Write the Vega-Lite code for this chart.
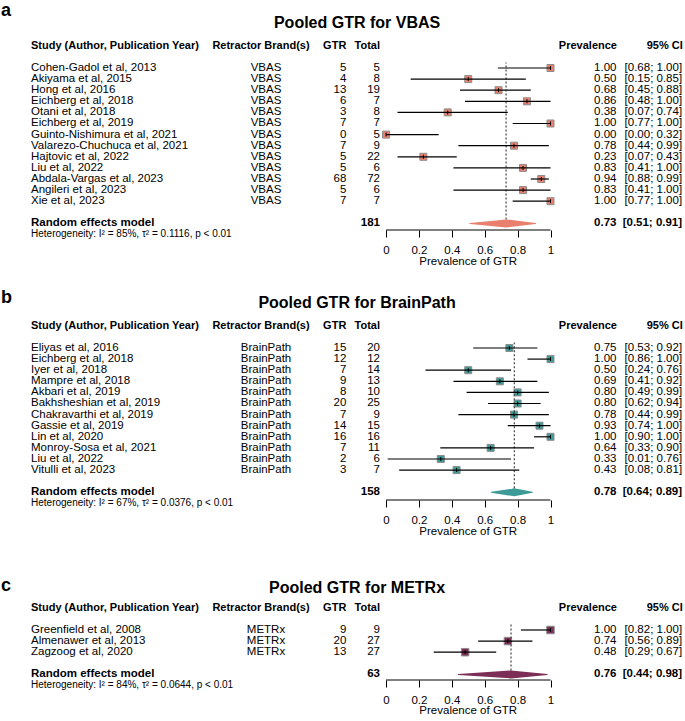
{
"$schema": "https://vega.github.io/schema/vega-lite/v6.json",
"padding": 0,
"spacing": 50,
"bounds": "flush",
"config": {"view": {"stroke": null}, "text": {"font": "Liberation Sans", "color": "black"},
 "axisX": {"domain": false, "grid": false, "ticks": true, "tickSize": 7, "tickColor": "black", "tickWidth": 1, "labelFont": "Liberation Sans", "labelFontSize": 11.5, "labelColor": "black", "labelPadding": 7, "labelFlush": false, "labelOverlap": false}},
"datasets": {"rows": [
{"panel":"a","kind":"study","row":1,"study":"Cohen-Gadol et al, 2013","brand":"VBAS","gtr":5,"total":5,"prev":1.0,"lo":0.68,"hi":1.0,"prevLabel":"1.00","ciLabel":"[0.68; 1.00]"},
{"panel":"a","kind":"study","row":2,"study":"Akiyama et al, 2015","brand":"VBAS","gtr":4,"total":8,"prev":0.5,"lo":0.15,"hi":0.85,"prevLabel":"0.50","ciLabel":"[0.15; 0.85]"},
{"panel":"a","kind":"study","row":3,"study":"Hong et al, 2016","brand":"VBAS","gtr":13,"total":19,"prev":0.684,"lo":0.45,"hi":0.88,"prevLabel":"0.68","ciLabel":"[0.45; 0.88]"},
{"panel":"a","kind":"study","row":4,"study":"Eichberg et al, 2018","brand":"VBAS","gtr":6,"total":7,"prev":0.857,"lo":0.48,"hi":1.0,"prevLabel":"0.86","ciLabel":"[0.48; 1.00]"},
{"panel":"a","kind":"study","row":5,"study":"Otani et al, 2018","brand":"VBAS","gtr":3,"total":8,"prev":0.375,"lo":0.07,"hi":0.74,"prevLabel":"0.38","ciLabel":"[0.07; 0.74]"},
{"panel":"a","kind":"study","row":6,"study":"Eichberg et al, 2019","brand":"VBAS","gtr":7,"total":7,"prev":1.0,"lo":0.77,"hi":1.0,"prevLabel":"1.00","ciLabel":"[0.77; 1.00]"},
{"panel":"a","kind":"study","row":7,"study":"Guinto-Nishimura et al, 2021","brand":"VBAS","gtr":0,"total":5,"prev":0.0,"lo":0.0,"hi":0.32,"prevLabel":"0.00","ciLabel":"[0.00; 0.32]"},
{"panel":"a","kind":"study","row":8,"study":"Valarezo-Chuchuca et al, 2021","brand":"VBAS","gtr":7,"total":9,"prev":0.778,"lo":0.44,"hi":0.99,"prevLabel":"0.78","ciLabel":"[0.44; 0.99]"},
{"panel":"a","kind":"study","row":9,"study":"Hajtovic et al, 2022","brand":"VBAS","gtr":5,"total":22,"prev":0.227,"lo":0.07,"hi":0.43,"prevLabel":"0.23","ciLabel":"[0.07; 0.43]"},
{"panel":"a","kind":"study","row":10,"study":"Liu et al, 2022","brand":"VBAS","gtr":5,"total":6,"prev":0.833,"lo":0.41,"hi":1.0,"prevLabel":"0.83","ciLabel":"[0.41; 1.00]"},
{"panel":"a","kind":"study","row":11,"study":"Abdala-Vargas et al, 2023","brand":"VBAS","gtr":68,"total":72,"prev":0.944,"lo":0.88,"hi":0.99,"prevLabel":"0.94","ciLabel":"[0.88; 0.99]"},
{"panel":"a","kind":"study","row":12,"study":"Angileri et al, 2023","brand":"VBAS","gtr":5,"total":6,"prev":0.833,"lo":0.41,"hi":1.0,"prevLabel":"0.83","ciLabel":"[0.41; 1.00]"},
{"panel":"a","kind":"study","row":13,"study":"Xie et al, 2023","brand":"VBAS","gtr":7,"total":7,"prev":1.0,"lo":0.77,"hi":1.0,"prevLabel":"1.00","ciLabel":"[0.77; 1.00]"},
{"panel":"a","kind":"summary","row":15,"study":"Random effects model","total":181,"prev":0.73,"lo":0.51,"hi":0.91,"prevLabel":"0.73","ciLabel":"[0.51; 0.91]","letter":"a","title":"Pooled GTR for VBAS","het":"Heterogeneity: I² = 85%, τ² = 0.1116, p < 0.01"},
{"panel":"b","kind":"study","row":1,"study":"Eliyas et al, 2016","brand":"BrainPath","gtr":15,"total":20,"prev":0.75,"lo":0.53,"hi":0.92,"prevLabel":"0.75","ciLabel":"[0.53; 0.92]"},
{"panel":"b","kind":"study","row":2,"study":"Eichberg et al, 2018","brand":"BrainPath","gtr":12,"total":12,"prev":1.0,"lo":0.86,"hi":1.0,"prevLabel":"1.00","ciLabel":"[0.86; 1.00]"},
{"panel":"b","kind":"study","row":3,"study":"Iyer et al, 2018","brand":"BrainPath","gtr":7,"total":14,"prev":0.5,"lo":0.24,"hi":0.76,"prevLabel":"0.50","ciLabel":"[0.24; 0.76]"},
{"panel":"b","kind":"study","row":4,"study":"Mampre et al, 2018","brand":"BrainPath","gtr":9,"total":13,"prev":0.692,"lo":0.41,"hi":0.92,"prevLabel":"0.69","ciLabel":"[0.41; 0.92]"},
{"panel":"b","kind":"study","row":5,"study":"Akbari et al, 2019","brand":"BrainPath","gtr":8,"total":10,"prev":0.8,"lo":0.49,"hi":0.99,"prevLabel":"0.80","ciLabel":"[0.49; 0.99]"},
{"panel":"b","kind":"study","row":6,"study":"Bakhsheshian et al, 2019","brand":"BrainPath","gtr":20,"total":25,"prev":0.8,"lo":0.62,"hi":0.94,"prevLabel":"0.80","ciLabel":"[0.62; 0.94]"},
{"panel":"b","kind":"study","row":7,"study":"Chakravarthi et al, 2019","brand":"BrainPath","gtr":7,"total":9,"prev":0.778,"lo":0.44,"hi":0.99,"prevLabel":"0.78","ciLabel":"[0.44; 0.99]"},
{"panel":"b","kind":"study","row":8,"study":"Gassie et al, 2019","brand":"BrainPath","gtr":14,"total":15,"prev":0.933,"lo":0.74,"hi":1.0,"prevLabel":"0.93","ciLabel":"[0.74; 1.00]"},
{"panel":"b","kind":"study","row":9,"study":"Lin et al, 2020","brand":"BrainPath","gtr":16,"total":16,"prev":1.0,"lo":0.9,"hi":1.0,"prevLabel":"1.00","ciLabel":"[0.90; 1.00]"},
{"panel":"b","kind":"study","row":10,"study":"Monroy-Sosa et al, 2021","brand":"BrainPath","gtr":7,"total":11,"prev":0.636,"lo":0.33,"hi":0.9,"prevLabel":"0.64","ciLabel":"[0.33; 0.90]"},
{"panel":"b","kind":"study","row":11,"study":"Liu et al, 2022","brand":"BrainPath","gtr":2,"total":6,"prev":0.333,"lo":0.01,"hi":0.76,"prevLabel":"0.33","ciLabel":"[0.01; 0.76]"},
{"panel":"b","kind":"study","row":12,"study":"Vitulli et al, 2023","brand":"BrainPath","gtr":3,"total":7,"prev":0.429,"lo":0.08,"hi":0.81,"prevLabel":"0.43","ciLabel":"[0.08; 0.81]"},
{"panel":"b","kind":"summary","row":14,"study":"Random effects model","total":158,"prev":0.78,"lo":0.64,"hi":0.89,"prevLabel":"0.78","ciLabel":"[0.64; 0.89]","letter":"b","title":"Pooled GTR for BrainPath","het":"Heterogeneity: I² = 67%, τ² = 0.0376, p < 0.01"},
{"panel":"c","kind":"study","row":1,"study":"Greenfield et al, 2008","brand":"METRx","gtr":9,"total":9,"prev":1.0,"lo":0.82,"hi":1.0,"prevLabel":"1.00","ciLabel":"[0.82; 1.00]"},
{"panel":"c","kind":"study","row":2,"study":"Almenawer et al, 2013","brand":"METRx","gtr":20,"total":27,"prev":0.741,"lo":0.56,"hi":0.89,"prevLabel":"0.74","ciLabel":"[0.56; 0.89]"},
{"panel":"c","kind":"study","row":3,"study":"Zagzoog et al, 2020","brand":"METRx","gtr":13,"total":27,"prev":0.481,"lo":0.29,"hi":0.67,"prevLabel":"0.48","ciLabel":"[0.29; 0.67]"},
{"panel":"c","kind":"summary","row":5,"study":"Random effects model","total":63,"prev":0.76,"lo":0.44,"hi":0.98,"prevLabel":"0.76","ciLabel":"[0.44; 0.98]","letter":"c","title":"Pooled GTR for METRx","het":"Heterogeneity: I² = 84%, τ² = 0.0644, p < 0.01"}
]},
"vconcat": [
{
"width": 685, "height": 230,
"data": {"name": "rows"},
"transform": [{"filter": "datum.panel === 'a'"}],
"encoding": {"y": {"field": "row", "type": "quantitative", "scale": {"domain": [-5.126, 15.595], "reverse": true, "nice": false, "zero": false}, "axis": null}},
"layer": [
{"transform": [{"filter": "datum.kind === 'study'"}], "mark": {"type": "point", "shape": "square", "filled": true, "size": 49, "fill": "#E9806E", "stroke": "#8c8c8c", "strokeWidth": 1, "opacity": 1},
 "encoding": {"x": {"field": "prev", "type": "quantitative", "scale": {"domain": [-2.3465, 1.8176], "nice": false, "zero": false}, "axis": {"values": [0, 0.2, 0.4, 0.6, 0.8, 1], "format": "~g", "title": null}}}},
{"transform": [{"filter": "datum.kind === 'summary'"}], "mark": {"type": "rule", "color": "black", "strokeWidth": 1},
 "encoding": {"x": {"datum": 0, "axis": {"values": [0, 0.2, 0.4, 0.6, 0.8, 1], "format": "~g", "title": null}}, "x2": {"datum": 1}, "y": {"datum": 15.595, "axis": null}}},
{"transform": [{"filter": "datum.kind === 'summary'"}], "mark": {"type": "rule", "color": "#444444", "strokeDash": [2, 2], "strokeWidth": 1.2},
 "encoding": {"x": {"field": "prev", "type": "quantitative", "axis": {"values": [0, 0.2, 0.4, 0.6, 0.8, 1], "format": "~g", "title": null}}, "y2": {"datum": 0.5}}},
{"transform": [{"filter": "datum.kind === 'study'"}], "mark": {"type": "rule", "color": "black", "strokeWidth": 1.2},
 "encoding": {"x": {"field": "lo", "type": "quantitative", "axis": {"values": [0, 0.2, 0.4, 0.6, 0.8, 1], "format": "~g", "title": null}}, "x2": {"field": "hi"}}},
{"transform": [{"filter": "datum.kind === 'study'"}], "mark": {"type": "tick", "orient": "vertical", "size": 4, "thickness": 1, "color": "black", "opacity": 1},
 "encoding": {"x": {"field": "prev", "type": "quantitative", "axis": {"values": [0, 0.2, 0.4, 0.6, 0.8, 1], "format": "~g", "title": null}}}},
{"transform": [{"filter": "datum.kind === 'summary'"}, {"fold": ["lo", "prev", "hi"], "as": ["part", "xval"]}], "mark": {"type": "trail", "color": "#E9806E"},
 "encoding": {"x": {"field": "xval", "type": "quantitative", "axis": {"values": [0, 0.2, 0.4, 0.6, 0.8, 1], "format": "~g", "title": null}}, "size": {"condition": {"test": "datum.part === 'prev'", "value": 8}, "value": 0}}},
{"transform": [{"filter": "datum.kind === 'study'"}], "mark": {"type": "text", "align": "left", "baseline": "middle", "fontSize": 11.5},
 "encoding": {"x": {"datum": -2.158, "axis": {"values": [0, 0.2, 0.4, 0.6, 0.8, 1], "format": "~g", "title": null}}, "text": {"field": "study"}}},
{"transform": [{"filter": "datum.kind === 'study'"}], "mark": {"type": "text", "align": "center", "baseline": "middle", "fontSize": 11.5},
 "encoding": {"x": {"datum": -0.7295, "axis": {"values": [0, 0.2, 0.4, 0.6, 0.8, 1], "format": "~g", "title": null}}, "text": {"field": "brand"}}},
{"transform": [{"filter": "datum.kind === 'study'"}], "mark": {"type": "text", "align": "right", "baseline": "middle", "fontSize": 11.5},
 "encoding": {"x": {"datum": -0.241, "axis": {"values": [0, 0.2, 0.4, 0.6, 0.8, 1], "format": "~g", "title": null}}, "text": {"field": "gtr", "type": "nominal"}}},
{"transform": [{"filter": "datum.kind === 'study'"}], "mark": {"type": "text", "align": "right", "baseline": "middle", "fontSize": 11.5},
 "encoding": {"x": {"datum": -0.0365, "axis": {"values": [0, 0.2, 0.4, 0.6, 0.8, 1], "format": "~g", "title": null}}, "text": {"field": "total", "type": "nominal"}}},
{"transform": [{"filter": "datum.kind === 'study'"}], "mark": {"type": "text", "align": "right", "baseline": "middle", "fontSize": 11.5},
 "encoding": {"x": {"datum": 1.401, "axis": {"values": [0, 0.2, 0.4, 0.6, 0.8, 1], "format": "~g", "title": null}}, "text": {"field": "prevLabel"}}},
{"transform": [{"filter": "datum.kind === 'study'"}], "mark": {"type": "text", "align": "right", "baseline": "middle", "fontSize": 11.5},
 "encoding": {"x": {"datum": 1.8, "axis": {"values": [0, 0.2, 0.4, 0.6, 0.8, 1], "format": "~g", "title": null}}, "text": {"field": "ciLabel"}}},
{"transform": [{"filter": "datum.kind === 'summary'"}], "mark": {"type": "text", "align": "left", "baseline": "middle", "fontSize": 11.5, "fontWeight": "bold"},
 "encoding": {"x": {"datum": -2.158, "axis": {"values": [0, 0.2, 0.4, 0.6, 0.8, 1], "format": "~g", "title": null}}, "text": {"field": "study"}}},
{"transform": [{"filter": "datum.kind === 'summary'"}], "mark": {"type": "text", "align": "right", "baseline": "middle", "fontSize": 11.5, "fontWeight": "bold"},
 "encoding": {"x": {"datum": -0.0365, "axis": {"values": [0, 0.2, 0.4, 0.6, 0.8, 1], "format": "~g", "title": null}}, "text": {"field": "total", "type": "nominal"}}},
{"transform": [{"filter": "datum.kind === 'summary'"}], "mark": {"type": "text", "align": "right", "baseline": "middle", "fontSize": 11.5, "fontWeight": "bold"},
 "encoding": {"x": {"datum": 1.401, "axis": {"values": [0, 0.2, 0.4, 0.6, 0.8, 1], "format": "~g", "title": null}}, "text": {"field": "prevLabel"}}},
{"transform": [{"filter": "datum.kind === 'summary'"}], "mark": {"type": "text", "align": "right", "baseline": "middle", "fontSize": 11.5, "fontWeight": "bold"},
 "encoding": {"x": {"datum": 1.8, "axis": {"values": [0, 0.2, 0.4, 0.6, 0.8, 1], "format": "~g", "title": null}}, "text": {"field": "ciLabel"}}},
{"transform": [{"filter": "datum.kind === 'summary'"}], "mark": {"type": "text", "align": "left", "baseline": "middle", "fontSize": 10},
 "encoding": {"x": {"datum": -2.158, "axis": {"values": [0, 0.2, 0.4, 0.6, 0.8, 1], "format": "~g", "title": null}}, "y": {"datum": 16, "axis": null}, "text": {"field": "het"}}},
{"transform": [{"filter": "datum.kind === 'summary'"}], "mark": {"type": "text", "align": "left", "baseline": "middle", "fontSize": 11, "fontWeight": "bold"},
 "encoding": {"x": {"datum": -2.158, "axis": {"values": [0, 0.2, 0.4, 0.6, 0.8, 1], "format": "~g", "title": null}}, "y": {"datum": -1, "axis": null}, "text": {"value": "Study (Author, Publication Year)"}}},
{"transform": [{"filter": "datum.kind === 'summary'"}], "mark": {"type": "text", "align": "center", "baseline": "middle", "fontSize": 11, "fontWeight": "bold"},
 "encoding": {"x": {"datum": -0.76, "axis": {"values": [0, 0.2, 0.4, 0.6, 0.8, 1], "format": "~g", "title": null}}, "y": {"datum": -1, "axis": null}, "text": {"value": "Retractor Brand(s)"}}},
{"transform": [{"filter": "datum.kind === 'summary'"}], "mark": {"type": "text", "align": "right", "baseline": "middle", "fontSize": 11, "fontWeight": "bold"},
 "encoding": {"x": {"datum": -0.241, "axis": {"values": [0, 0.2, 0.4, 0.6, 0.8, 1], "format": "~g", "title": null}}, "y": {"datum": -1, "axis": null}, "text": {"value": "GTR"}}},
{"transform": [{"filter": "datum.kind === 'summary'"}], "mark": {"type": "text", "align": "right", "baseline": "middle", "fontSize": 11, "fontWeight": "bold"},
 "encoding": {"x": {"datum": -0.0365, "axis": {"values": [0, 0.2, 0.4, 0.6, 0.8, 1], "format": "~g", "title": null}}, "y": {"datum": -1, "axis": null}, "text": {"value": "Total"}}},
{"transform": [{"filter": "datum.kind === 'summary'"}], "mark": {"type": "text", "align": "right", "baseline": "middle", "fontSize": 11, "fontWeight": "bold"},
 "encoding": {"x": {"datum": 1.404, "axis": {"values": [0, 0.2, 0.4, 0.6, 0.8, 1], "format": "~g", "title": null}}, "y": {"datum": -1, "axis": null}, "text": {"value": "Prevalence"}}},
{"transform": [{"filter": "datum.kind === 'summary'"}], "mark": {"type": "text", "align": "right", "baseline": "middle", "fontSize": 11, "fontWeight": "bold"},
 "encoding": {"x": {"datum": 1.804, "axis": {"values": [0, 0.2, 0.4, 0.6, 0.8, 1], "format": "~g", "title": null}}, "y": {"datum": -1, "axis": null}, "text": {"value": "95% CI"}}},
{"transform": [{"filter": "datum.kind === 'summary'"}], "mark": {"type": "text", "align": "center", "baseline": "middle", "fontSize": 16, "fontWeight": "bold"},
 "encoding": {"x": {"datum": -0.176, "axis": {"values": [0, 0.2, 0.4, 0.6, 0.8, 1], "format": "~g", "title": null}}, "y": {"datum": -3.05, "axis": null}, "text": {"field": "title"}}},
{"transform": [{"filter": "datum.kind === 'summary'"}], "mark": {"type": "text", "align": "left", "baseline": "middle", "fontSize": 18, "fontWeight": "bold"},
 "encoding": {"x": {"datum": -2.34, "axis": {"values": [0, 0.2, 0.4, 0.6, 0.8, 1], "format": "~g", "title": null}}, "y": {"datum": -4.15, "axis": null}, "text": {"field": "letter"}}},
{"transform": [{"filter": "datum.kind === 'summary'"}], "mark": {"type": "text", "align": "center", "baseline": "middle", "fontSize": 11.5},
 "encoding": {"x": {"datum": 0.5, "axis": {"values": [0, 0.2, 0.4, 0.6, 0.8, 1], "format": "~g", "title": null}}, "y": {"datum": 18.5, "axis": null}, "text": {"value": "Prevalence of GTR"}}}
]
},
{
"width": 685, "height": 220,
"data": {"name": "rows"},
"transform": [{"filter": "datum.panel === 'b'"}],
"encoding": {"y": {"field": "row", "type": "quantitative", "scale": {"domain": [-5.126, 14.694], "reverse": true, "nice": false, "zero": false}, "axis": null}},
"layer": [
{"transform": [{"filter": "datum.kind === 'study'"}], "mark": {"type": "point", "shape": "square", "filled": true, "size": 49, "fill": "#3D9A97", "stroke": "#8c8c8c", "strokeWidth": 1, "opacity": 1},
 "encoding": {"x": {"field": "prev", "type": "quantitative", "scale": {"domain": [-2.3465, 1.8176], "nice": false, "zero": false}, "axis": {"values": [0, 0.2, 0.4, 0.6, 0.8, 1], "format": "~g", "title": null}}}},
{"transform": [{"filter": "datum.kind === 'summary'"}], "mark": {"type": "rule", "color": "black", "strokeWidth": 1},
 "encoding": {"x": {"datum": 0, "axis": {"values": [0, 0.2, 0.4, 0.6, 0.8, 1], "format": "~g", "title": null}}, "x2": {"datum": 1}, "y": {"datum": 14.694, "axis": null}}},
{"transform": [{"filter": "datum.kind === 'summary'"}], "mark": {"type": "rule", "color": "#444444", "strokeDash": [2, 2], "strokeWidth": 1.2},
 "encoding": {"x": {"field": "prev", "type": "quantitative", "axis": {"values": [0, 0.2, 0.4, 0.6, 0.8, 1], "format": "~g", "title": null}}, "y2": {"datum": 0.5}}},
{"transform": [{"filter": "datum.kind === 'study'"}], "mark": {"type": "rule", "color": "black", "strokeWidth": 1.2},
 "encoding": {"x": {"field": "lo", "type": "quantitative", "axis": {"values": [0, 0.2, 0.4, 0.6, 0.8, 1], "format": "~g", "title": null}}, "x2": {"field": "hi"}}},
{"transform": [{"filter": "datum.kind === 'study'"}], "mark": {"type": "tick", "orient": "vertical", "size": 4, "thickness": 1, "color": "black", "opacity": 1},
 "encoding": {"x": {"field": "prev", "type": "quantitative", "axis": {"values": [0, 0.2, 0.4, 0.6, 0.8, 1], "format": "~g", "title": null}}}},
{"transform": [{"filter": "datum.kind === 'summary'"}, {"fold": ["lo", "prev", "hi"], "as": ["part", "xval"]}], "mark": {"type": "trail", "color": "#3D9A97"},
 "encoding": {"x": {"field": "xval", "type": "quantitative", "axis": {"values": [0, 0.2, 0.4, 0.6, 0.8, 1], "format": "~g", "title": null}}, "size": {"condition": {"test": "datum.part === 'prev'", "value": 8}, "value": 0}}},
{"transform": [{"filter": "datum.kind === 'study'"}], "mark": {"type": "text", "align": "left", "baseline": "middle", "fontSize": 11.5},
 "encoding": {"x": {"datum": -2.158, "axis": {"values": [0, 0.2, 0.4, 0.6, 0.8, 1], "format": "~g", "title": null}}, "text": {"field": "study"}}},
{"transform": [{"filter": "datum.kind === 'study'"}], "mark": {"type": "text", "align": "center", "baseline": "middle", "fontSize": 11.5},
 "encoding": {"x": {"datum": -0.7295, "axis": {"values": [0, 0.2, 0.4, 0.6, 0.8, 1], "format": "~g", "title": null}}, "text": {"field": "brand"}}},
{"transform": [{"filter": "datum.kind === 'study'"}], "mark": {"type": "text", "align": "right", "baseline": "middle", "fontSize": 11.5},
 "encoding": {"x": {"datum": -0.241, "axis": {"values": [0, 0.2, 0.4, 0.6, 0.8, 1], "format": "~g", "title": null}}, "text": {"field": "gtr", "type": "nominal"}}},
{"transform": [{"filter": "datum.kind === 'study'"}], "mark": {"type": "text", "align": "right", "baseline": "middle", "fontSize": 11.5},
 "encoding": {"x": {"datum": -0.0365, "axis": {"values": [0, 0.2, 0.4, 0.6, 0.8, 1], "format": "~g", "title": null}}, "text": {"field": "total", "type": "nominal"}}},
{"transform": [{"filter": "datum.kind === 'study'"}], "mark": {"type": "text", "align": "right", "baseline": "middle", "fontSize": 11.5},
 "encoding": {"x": {"datum": 1.401, "axis": {"values": [0, 0.2, 0.4, 0.6, 0.8, 1], "format": "~g", "title": null}}, "text": {"field": "prevLabel"}}},
{"transform": [{"filter": "datum.kind === 'study'"}], "mark": {"type": "text", "align": "right", "baseline": "middle", "fontSize": 11.5},
 "encoding": {"x": {"datum": 1.8, "axis": {"values": [0, 0.2, 0.4, 0.6, 0.8, 1], "format": "~g", "title": null}}, "text": {"field": "ciLabel"}}},
{"transform": [{"filter": "datum.kind === 'summary'"}], "mark": {"type": "text", "align": "left", "baseline": "middle", "fontSize": 11.5, "fontWeight": "bold"},
 "encoding": {"x": {"datum": -2.158, "axis": {"values": [0, 0.2, 0.4, 0.6, 0.8, 1], "format": "~g", "title": null}}, "text": {"field": "study"}}},
{"transform": [{"filter": "datum.kind === 'summary'"}], "mark": {"type": "text", "align": "right", "baseline": "middle", "fontSize": 11.5, "fontWeight": "bold"},
 "encoding": {"x": {"datum": -0.0365, "axis": {"values": [0, 0.2, 0.4, 0.6, 0.8, 1], "format": "~g", "title": null}}, "text": {"field": "total", "type": "nominal"}}},
{"transform": [{"filter": "datum.kind === 'summary'"}], "mark": {"type": "text", "align": "right", "baseline": "middle", "fontSize": 11.5, "fontWeight": "bold"},
 "encoding": {"x": {"datum": 1.401, "axis": {"values": [0, 0.2, 0.4, 0.6, 0.8, 1], "format": "~g", "title": null}}, "text": {"field": "prevLabel"}}},
{"transform": [{"filter": "datum.kind === 'summary'"}], "mark": {"type": "text", "align": "right", "baseline": "middle", "fontSize": 11.5, "fontWeight": "bold"},
 "encoding": {"x": {"datum": 1.8, "axis": {"values": [0, 0.2, 0.4, 0.6, 0.8, 1], "format": "~g", "title": null}}, "text": {"field": "ciLabel"}}},
{"transform": [{"filter": "datum.kind === 'summary'"}], "mark": {"type": "text", "align": "left", "baseline": "middle", "fontSize": 10},
 "encoding": {"x": {"datum": -2.158, "axis": {"values": [0, 0.2, 0.4, 0.6, 0.8, 1], "format": "~g", "title": null}}, "y": {"datum": 15, "axis": null}, "text": {"field": "het"}}},
{"transform": [{"filter": "datum.kind === 'summary'"}], "mark": {"type": "text", "align": "left", "baseline": "middle", "fontSize": 11, "fontWeight": "bold"},
 "encoding": {"x": {"datum": -2.158, "axis": {"values": [0, 0.2, 0.4, 0.6, 0.8, 1], "format": "~g", "title": null}}, "y": {"datum": -1, "axis": null}, "text": {"value": "Study (Author, Publication Year)"}}},
{"transform": [{"filter": "datum.kind === 'summary'"}], "mark": {"type": "text", "align": "center", "baseline": "middle", "fontSize": 11, "fontWeight": "bold"},
 "encoding": {"x": {"datum": -0.76, "axis": {"values": [0, 0.2, 0.4, 0.6, 0.8, 1], "format": "~g", "title": null}}, "y": {"datum": -1, "axis": null}, "text": {"value": "Retractor Brand(s)"}}},
{"transform": [{"filter": "datum.kind === 'summary'"}], "mark": {"type": "text", "align": "right", "baseline": "middle", "fontSize": 11, "fontWeight": "bold"},
 "encoding": {"x": {"datum": -0.241, "axis": {"values": [0, 0.2, 0.4, 0.6, 0.8, 1], "format": "~g", "title": null}}, "y": {"datum": -1, "axis": null}, "text": {"value": "GTR"}}},
{"transform": [{"filter": "datum.kind === 'summary'"}], "mark": {"type": "text", "align": "right", "baseline": "middle", "fontSize": 11, "fontWeight": "bold"},
 "encoding": {"x": {"datum": -0.0365, "axis": {"values": [0, 0.2, 0.4, 0.6, 0.8, 1], "format": "~g", "title": null}}, "y": {"datum": -1, "axis": null}, "text": {"value": "Total"}}},
{"transform": [{"filter": "datum.kind === 'summary'"}], "mark": {"type": "text", "align": "right", "baseline": "middle", "fontSize": 11, "fontWeight": "bold"},
 "encoding": {"x": {"datum": 1.404, "axis": {"values": [0, 0.2, 0.4, 0.6, 0.8, 1], "format": "~g", "title": null}}, "y": {"datum": -1, "axis": null}, "text": {"value": "Prevalence"}}},
{"transform": [{"filter": "datum.kind === 'summary'"}], "mark": {"type": "text", "align": "right", "baseline": "middle", "fontSize": 11, "fontWeight": "bold"},
 "encoding": {"x": {"datum": 1.804, "axis": {"values": [0, 0.2, 0.4, 0.6, 0.8, 1], "format": "~g", "title": null}}, "y": {"datum": -1, "axis": null}, "text": {"value": "95% CI"}}},
{"transform": [{"filter": "datum.kind === 'summary'"}], "mark": {"type": "text", "align": "center", "baseline": "middle", "fontSize": 16, "fontWeight": "bold"},
 "encoding": {"x": {"datum": -0.176, "axis": {"values": [0, 0.2, 0.4, 0.6, 0.8, 1], "format": "~g", "title": null}}, "y": {"datum": -3.05, "axis": null}, "text": {"field": "title"}}},
{"transform": [{"filter": "datum.kind === 'summary'"}], "mark": {"type": "text", "align": "left", "baseline": "middle", "fontSize": 18, "fontWeight": "bold"},
 "encoding": {"x": {"datum": -2.34, "axis": {"values": [0, 0.2, 0.4, 0.6, 0.8, 1], "format": "~g", "title": null}}, "y": {"datum": -3.5, "axis": null}, "text": {"field": "letter"}}},
{"transform": [{"filter": "datum.kind === 'summary'"}], "mark": {"type": "text", "align": "center", "baseline": "middle", "fontSize": 11.5},
 "encoding": {"x": {"datum": 0.5, "axis": {"values": [0, 0.2, 0.4, 0.6, 0.8, 1], "format": "~g", "title": null}}, "y": {"datum": 17.6, "axis": null}, "text": {"value": "Prevalence of GTR"}}}
]
},
{
"width": 685, "height": 130,
"data": {"name": "rows"},
"transform": [{"filter": "datum.panel === 'c'"}],
"encoding": {"y": {"field": "row", "type": "quantitative", "scale": {"domain": [-6.207, 5.505], "reverse": true, "nice": false, "zero": false}, "axis": null}},
"layer": [
{"transform": [{"filter": "datum.kind === 'study'"}], "mark": {"type": "point", "shape": "square", "filled": true, "size": 56, "fill": "#7D2E56", "stroke": "#8c8c8c", "strokeWidth": 1, "opacity": 1},
 "encoding": {"x": {"field": "prev", "type": "quantitative", "scale": {"domain": [-2.3465, 1.8176], "nice": false, "zero": false}, "axis": {"values": [0, 0.2, 0.4, 0.6, 0.8, 1], "format": "~g", "title": null}}}},
{"transform": [{"filter": "datum.kind === 'summary'"}], "mark": {"type": "rule", "color": "black", "strokeWidth": 1},
 "encoding": {"x": {"datum": 0, "axis": {"values": [0, 0.2, 0.4, 0.6, 0.8, 1], "format": "~g", "title": null}}, "x2": {"datum": 1}, "y": {"datum": 5.505, "axis": null}}},
{"transform": [{"filter": "datum.kind === 'summary'"}], "mark": {"type": "rule", "color": "#444444", "strokeDash": [2, 2], "strokeWidth": 1.2},
 "encoding": {"x": {"field": "prev", "type": "quantitative", "axis": {"values": [0, 0.2, 0.4, 0.6, 0.8, 1], "format": "~g", "title": null}}, "y2": {"datum": 0.5}}},
{"transform": [{"filter": "datum.kind === 'study'"}], "mark": {"type": "rule", "color": "black", "strokeWidth": 1.2},
 "encoding": {"x": {"field": "lo", "type": "quantitative", "axis": {"values": [0, 0.2, 0.4, 0.6, 0.8, 1], "format": "~g", "title": null}}, "x2": {"field": "hi"}}},
{"transform": [{"filter": "datum.kind === 'study'"}], "mark": {"type": "tick", "orient": "vertical", "size": 4, "thickness": 1, "color": "black", "opacity": 1},
 "encoding": {"x": {"field": "prev", "type": "quantitative", "axis": {"values": [0, 0.2, 0.4, 0.6, 0.8, 1], "format": "~g", "title": null}}}},
{"transform": [{"filter": "datum.kind === 'summary'"}, {"fold": ["lo", "prev", "hi"], "as": ["part", "xval"]}], "mark": {"type": "trail", "color": "#7D2E56"},
 "encoding": {"x": {"field": "xval", "type": "quantitative", "axis": {"values": [0, 0.2, 0.4, 0.6, 0.8, 1], "format": "~g", "title": null}}, "size": {"condition": {"test": "datum.part === 'prev'", "value": 8}, "value": 0}}},
{"transform": [{"filter": "datum.kind === 'study'"}], "mark": {"type": "text", "align": "left", "baseline": "middle", "fontSize": 11.5},
 "encoding": {"x": {"datum": -2.158, "axis": {"values": [0, 0.2, 0.4, 0.6, 0.8, 1], "format": "~g", "title": null}}, "text": {"field": "study"}}},
{"transform": [{"filter": "datum.kind === 'study'"}], "mark": {"type": "text", "align": "center", "baseline": "middle", "fontSize": 11.5},
 "encoding": {"x": {"datum": -0.7295, "axis": {"values": [0, 0.2, 0.4, 0.6, 0.8, 1], "format": "~g", "title": null}}, "text": {"field": "brand"}}},
{"transform": [{"filter": "datum.kind === 'study'"}], "mark": {"type": "text", "align": "right", "baseline": "middle", "fontSize": 11.5},
 "encoding": {"x": {"datum": -0.241, "axis": {"values": [0, 0.2, 0.4, 0.6, 0.8, 1], "format": "~g", "title": null}}, "text": {"field": "gtr", "type": "nominal"}}},
{"transform": [{"filter": "datum.kind === 'study'"}], "mark": {"type": "text", "align": "right", "baseline": "middle", "fontSize": 11.5},
 "encoding": {"x": {"datum": -0.0365, "axis": {"values": [0, 0.2, 0.4, 0.6, 0.8, 1], "format": "~g", "title": null}}, "text": {"field": "total", "type": "nominal"}}},
{"transform": [{"filter": "datum.kind === 'study'"}], "mark": {"type": "text", "align": "right", "baseline": "middle", "fontSize": 11.5},
 "encoding": {"x": {"datum": 1.401, "axis": {"values": [0, 0.2, 0.4, 0.6, 0.8, 1], "format": "~g", "title": null}}, "text": {"field": "prevLabel"}}},
{"transform": [{"filter": "datum.kind === 'study'"}], "mark": {"type": "text", "align": "right", "baseline": "middle", "fontSize": 11.5},
 "encoding": {"x": {"datum": 1.8, "axis": {"values": [0, 0.2, 0.4, 0.6, 0.8, 1], "format": "~g", "title": null}}, "text": {"field": "ciLabel"}}},
{"transform": [{"filter": "datum.kind === 'summary'"}], "mark": {"type": "text", "align": "left", "baseline": "middle", "fontSize": 11.5, "fontWeight": "bold"},
 "encoding": {"x": {"datum": -2.158, "axis": {"values": [0, 0.2, 0.4, 0.6, 0.8, 1], "format": "~g", "title": null}}, "text": {"field": "study"}}},
{"transform": [{"filter": "datum.kind === 'summary'"}], "mark": {"type": "text", "align": "right", "baseline": "middle", "fontSize": 11.5, "fontWeight": "bold"},
 "encoding": {"x": {"datum": -0.0365, "axis": {"values": [0, 0.2, 0.4, 0.6, 0.8, 1], "format": "~g", "title": null}}, "text": {"field": "total", "type": "nominal"}}},
{"transform": [{"filter": "datum.kind === 'summary'"}], "mark": {"type": "text", "align": "right", "baseline": "middle", "fontSize": 11.5, "fontWeight": "bold"},
 "encoding": {"x": {"datum": 1.401, "axis": {"values": [0, 0.2, 0.4, 0.6, 0.8, 1], "format": "~g", "title": null}}, "text": {"field": "prevLabel"}}},
{"transform": [{"filter": "datum.kind === 'summary'"}], "mark": {"type": "text", "align": "right", "baseline": "middle", "fontSize": 11.5, "fontWeight": "bold"},
 "encoding": {"x": {"datum": 1.8, "axis": {"values": [0, 0.2, 0.4, 0.6, 0.8, 1], "format": "~g", "title": null}}, "text": {"field": "ciLabel"}}},
{"transform": [{"filter": "datum.kind === 'summary'"}], "mark": {"type": "text", "align": "left", "baseline": "middle", "fontSize": 10},
 "encoding": {"x": {"datum": -2.158, "axis": {"values": [0, 0.2, 0.4, 0.6, 0.8, 1], "format": "~g", "title": null}}, "y": {"datum": 6, "axis": null}, "text": {"field": "het"}}},
{"transform": [{"filter": "datum.kind === 'summary'"}], "mark": {"type": "text", "align": "left", "baseline": "middle", "fontSize": 11, "fontWeight": "bold"},
 "encoding": {"x": {"datum": -2.158, "axis": {"values": [0, 0.2, 0.4, 0.6, 0.8, 1], "format": "~g", "title": null}}, "y": {"datum": -1, "axis": null}, "text": {"value": "Study (Author, Publication Year)"}}},
{"transform": [{"filter": "datum.kind === 'summary'"}], "mark": {"type": "text", "align": "center", "baseline": "middle", "fontSize": 11, "fontWeight": "bold"},
 "encoding": {"x": {"datum": -0.76, "axis": {"values": [0, 0.2, 0.4, 0.6, 0.8, 1], "format": "~g", "title": null}}, "y": {"datum": -1, "axis": null}, "text": {"value": "Retractor Brand(s)"}}},
{"transform": [{"filter": "datum.kind === 'summary'"}], "mark": {"type": "text", "align": "right", "baseline": "middle", "fontSize": 11, "fontWeight": "bold"},
 "encoding": {"x": {"datum": -0.241, "axis": {"values": [0, 0.2, 0.4, 0.6, 0.8, 1], "format": "~g", "title": null}}, "y": {"datum": -1, "axis": null}, "text": {"value": "GTR"}}},
{"transform": [{"filter": "datum.kind === 'summary'"}], "mark": {"type": "text", "align": "right", "baseline": "middle", "fontSize": 11, "fontWeight": "bold"},
 "encoding": {"x": {"datum": -0.0365, "axis": {"values": [0, 0.2, 0.4, 0.6, 0.8, 1], "format": "~g", "title": null}}, "y": {"datum": -1, "axis": null}, "text": {"value": "Total"}}},
{"transform": [{"filter": "datum.kind === 'summary'"}], "mark": {"type": "text", "align": "right", "baseline": "middle", "fontSize": 11, "fontWeight": "bold"},
 "encoding": {"x": {"datum": 1.404, "axis": {"values": [0, 0.2, 0.4, 0.6, 0.8, 1], "format": "~g", "title": null}}, "y": {"datum": -1, "axis": null}, "text": {"value": "Prevalence"}}},
{"transform": [{"filter": "datum.kind === 'summary'"}], "mark": {"type": "text", "align": "right", "baseline": "middle", "fontSize": 11, "fontWeight": "bold"},
 "encoding": {"x": {"datum": 1.804, "axis": {"values": [0, 0.2, 0.4, 0.6, 0.8, 1], "format": "~g", "title": null}}, "y": {"datum": -1, "axis": null}, "text": {"value": "95% CI"}}},
{"transform": [{"filter": "datum.kind === 'summary'"}], "mark": {"type": "text", "align": "center", "baseline": "middle", "fontSize": 16, "fontWeight": "bold"},
 "encoding": {"x": {"datum": -0.176, "axis": {"values": [0, 0.2, 0.4, 0.6, 0.8, 1], "format": "~g", "title": null}}, "y": {"datum": -2.8, "axis": null}, "text": {"field": "title"}}},
{"transform": [{"filter": "datum.kind === 'summary'"}], "mark": {"type": "text", "align": "left", "baseline": "middle", "fontSize": 18, "fontWeight": "bold"},
 "encoding": {"x": {"datum": -2.34, "axis": {"values": [0, 0.2, 0.4, 0.6, 0.8, 1], "format": "~g", "title": null}}, "y": {"datum": -3.0, "axis": null}, "text": {"field": "letter"}}},
{"transform": [{"filter": "datum.kind === 'summary'"}], "mark": {"type": "text", "align": "center", "baseline": "middle", "fontSize": 11.5},
 "encoding": {"x": {"datum": 0.5, "axis": {"values": [0, 0.2, 0.4, 0.6, 0.8, 1], "format": "~g", "title": null}}, "y": {"datum": 8.3, "axis": null}, "text": {"value": "Prevalence of GTR"}}}
]
}
]
}
